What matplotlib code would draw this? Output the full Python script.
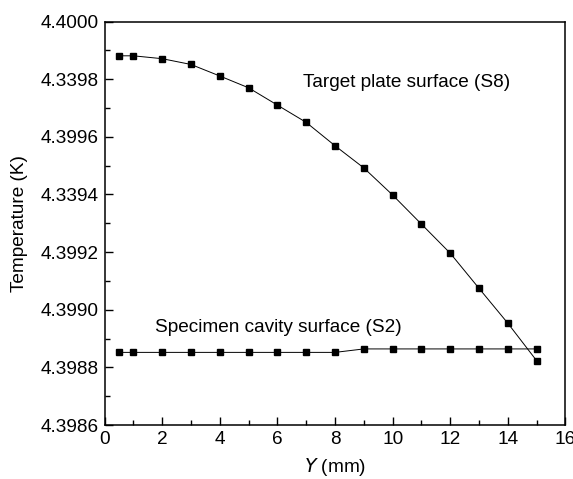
import matplotlib
matplotlib.use("Agg")
import matplotlib.pyplot as plt
from matplotlib.ticker import MultipleLocator, FixedLocator, FixedFormatter

plt.rcParams['font.family'] = ['Liberation Sans', 'DejaVu Sans']

y_s8 = [0.5, 1, 2, 3, 4, 5, 6, 7, 8, 9, 10, 11, 12, 13, 14, 15]
t_s8 = [4.399881, 4.399881, 4.399871, 4.399851, 4.399811, 4.399770, 4.399710,
        4.399650, 4.399569, 4.399492, 4.399398, 4.399297, 4.399196, 4.399074,
        4.398953, 4.398823]
y_s2 = [0.5, 1, 2, 3, 4, 5, 6, 7, 8, 9, 10, 11, 12, 13, 14, 15]
t_s2 = [4.398852, 4.398852, 4.398852, 4.398852, 4.398852, 4.398852, 4.398852,
        4.398852, 4.398852, 4.398864, 4.398864, 4.398864, 4.398864, 4.398864,
        4.398864, 4.398864]
ytick_vals = [4.3986, 4.3988, 4.3990, 4.3992, 4.3994, 4.3996, 4.3998, 4.4000]
ytick_labels = ['4.3986', '4.3988', '4.3990', '4.3992', '4.3394', '4.3996', '4.3398', '4.4000']

fs = 13.7
fig = plt.figure(figsize=(5.73, 4.79), dpi=100)
ax = fig.add_axes([0.1824, 0.1127, 0.8045, 0.8424])

for xs, ys in [(y_s8, t_s8), (y_s2, t_s2)]:
    ax.plot(xs, ys, color='black', lw=0.7, marker='s', ms=4.2, mfc='black', mec='black')

ax.set_xlim(0, 16)
ax.set_ylim(4.3986, 4.4000)
ax.xaxis.set_major_locator(MultipleLocator(2))
ax.xaxis.set_minor_locator(MultipleLocator(1))
ax.yaxis.set_major_locator(FixedLocator(ytick_vals))
ax.yaxis.set_major_formatter(FixedFormatter(ytick_labels))
ax.yaxis.set_minor_locator(MultipleLocator(0.0001))
ax.tick_params(which='both', direction='in', top=False, right=False, labelsize=fs, width=1)
ax.tick_params(which='major', length=6, pad=4)
ax.tick_params(which='minor', length=3.5)
for s in ax.spines.values():
    s.set_linewidth(1.1)

ax.text(6.89, 4.39979, 'Target plate surface (S8)', fontsize=fs, ha='left', va='center')
ax.text(1.75, 4.39894, 'Specimen cavity surface (S2)', fontsize=fs, ha='left', va='center')

ax.set_xlabel(r'$\it{Y}$ (mm)', fontsize=fs, labelpad=6)
ax.set_ylabel('Temperature (K)', fontsize=fs, labelpad=9)

fig.savefig('out.png', dpi=100)
